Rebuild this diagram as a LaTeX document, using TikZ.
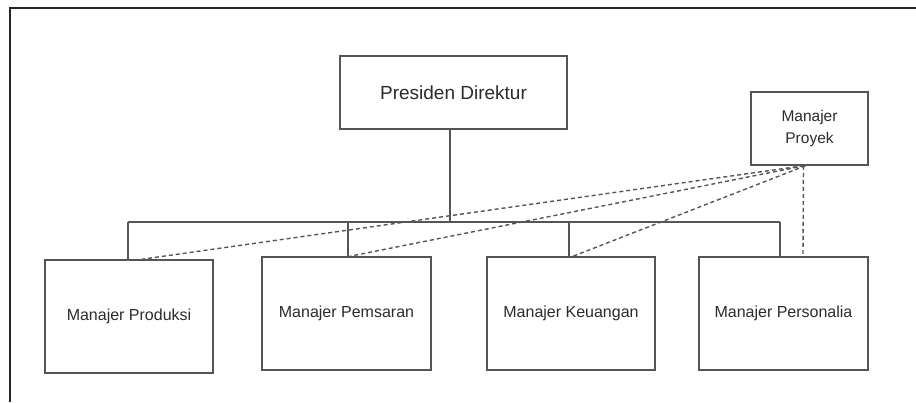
\documentclass[tikz,border=0pt]{standalone}
\usepackage{fontspec}
\setmainfont{Liberation Sans}
\usetikzlibrary{calc}
\definecolor{linegray}{HTML}{555555}
\definecolor{txtgray}{HTML}{2B2B2B}
\tikzset{
  box/.style={draw=linegray, line width=1.5pt, rectangle, inner sep=0pt, text=txtgray, font=\fontsize{16}{20}\selectfont, align=center},
  conn/.style={draw=linegray, line width=1.5pt},
  dconn/.style={draw=linegray, line width=1.4pt, dash pattern=on 4pt off 3pt},
}
\begin{document}
\begin{tikzpicture}[x=1pt,y=-1pt]
\useasboundingbox (0,0) rectangle (916,402);
% frame
\draw[line width=2pt, black!85] (10,402) -- (10,8) -- (916,8);
% nodes
\node[box, minimum width=227pt, minimum height=73pt, font=\fontsize{19}{23}\selectfont] (pd) at (453.5,92.5) {Presiden Direktur};
\node[box, minimum width=117pt, minimum height=73pt, font=\fontsize{15.5}{21.5}\selectfont] (pj) at (809.5,128.5) {Manajer\\Proyek};
\node[box, minimum width=168pt, minimum height=113pt] (mp) at (129,316.5) {Manajer Produksi};
\node[box, minimum width=169pt, minimum height=113pt] (ms) at (346.5,313.5) {Manajer Pemsaran};
\node[box, minimum width=168pt, minimum height=113pt] (mk) at (571,313.5) {Manajer Keuangan};
\node[box, minimum width=169pt, minimum height=113pt] (mr) at (783.5,313.5) {Manajer Personalia};
% bus coordinates
\coordinate (bc) at (450,222);
\coordinate (b1) at (128,222);
\coordinate (b2) at (348,222);
\coordinate (b3) at (569,222);
\coordinate (b4) at (780,222);
% solid connectors
\draw[conn] (pd.south -| bc) -- (bc);
\draw[conn] (b1) -- (b4);
\draw[conn] (b1) -- (b1 |- mp.north);
\draw[conn] (b2) -- (b2 |- ms.north);
\draw[conn] (b3) -- (b3 |- mk.north);
\draw[conn] (b4) -- (b4 |- mr.north);
% dashed connectors from Manajer Proyek
\draw[dconn] ($(pj.south)+(-6,0)$) -- ($(mp.north)+(13,0)$);
\draw[dconn] ($(pj.south)+(-5,0)$) -- ($(ms.north)+(3.5,0)$);
\draw[dconn] ($(pj.south)+(-4,0)$) -- ($(mk.north)+(2,0)$);
\draw[dconn] ($(pj.south)+(-6,0)$) -- ($(mr.north)+(19.5,0)$);
\end{tikzpicture}
\end{document}
